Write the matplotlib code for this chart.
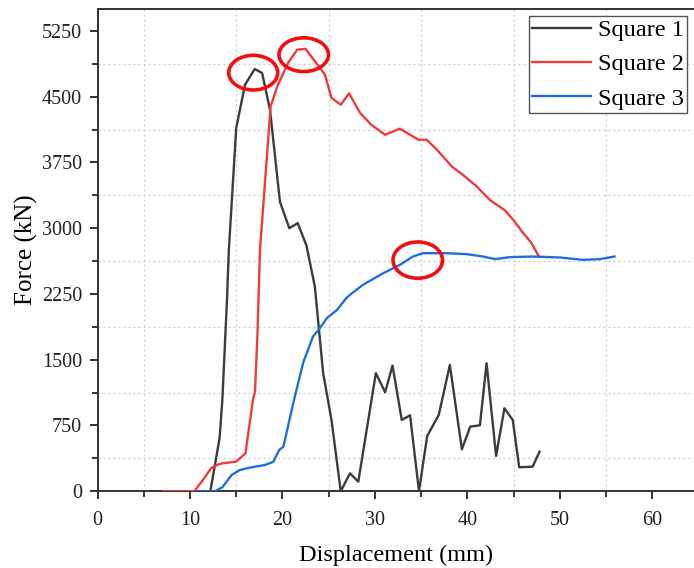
import matplotlib.pyplot as plt
from matplotlib.patches import Ellipse
import numpy as np

# Square 1
x1 = [12.2, 13.2, 13.5, 14.0, 14.2, 15.0, 15.95, 17.0, 17.8, 18.65, 19.73, 20.74, 21.65,
      22.6, 23.5, 24.4, 25.3, 26.3, 27.3, 28.2, 30.1, 31.1, 31.9, 32.9, 33.8, 34.76,
      35.65, 36.9, 38.1, 39.4, 40.3, 41.35, 42.07, 43.1, 44.0, 44.9, 45.6, 47.05, 47.8]
y1 = [0, 604, 1041, 2180, 2750, 4143, 4637, 4816, 4770, 4351, 3300, 3000, 3058,
      2800, 2335, 1346, 813, 0, 204, 109, 1346, 1129, 1433, 813, 866, 0,
      630, 870, 1440, 478, 736, 752, 1460, 402, 946, 813, 273, 280, 451]

# Square 2
x2 = [7.1, 10.47, 11.4, 12.27, 12.9, 13.5, 14.97, 16.0, 16.8, 17.03, 17.3, 17.57, 18.72,
      19.44, 20.6, 21.6, 22.5, 23.6, 24.6, 25.3, 26.3, 27.2, 28.4, 29.6, 31.1, 32.7,
      34.7, 35.6, 36.7, 38.3, 39.5, 41.0, 42.5, 44.05, 44.95, 45.9, 46.9, 47.76]
y2 = [0, 0, 128, 261, 299, 318, 337, 432, 1041, 1136, 1802, 2756, 4389,
      4618, 4885, 5037, 5045, 4892, 4751, 4485, 4409, 4538, 4314, 4180, 4066, 4135,
      4009, 4009, 3895, 3705, 3610, 3476, 3315, 3205, 3096, 2962, 2835, 2672]

# Square 3
x3 = [10.7, 12.7, 13.5, 14.5, 15.4, 16.5, 18.1, 19.0, 19.65, 20.1, 21.2, 22.25, 23.3,
      24.05, 24.8, 25.9, 26.9, 27.3, 28.7, 30.9, 32.7, 34.1, 35.2, 37.75, 39.9, 41.7,
      43.0, 44.6, 47.1, 50.0, 52.5, 54.3, 55.9]
y3 = [0, 0, 45, 185, 242, 270, 299, 335, 470, 508, 1020, 1470, 1764,
      1860, 1974, 2068, 2202, 2240, 2354, 2487, 2582, 2677, 2715, 2715, 2704, 2677,
      2647, 2670, 2677, 2666, 2639, 2647, 2677]

# red circles marking the peaks: centre x, centre y, width, height (data units)
circ_x = [16.84, 22.3, 34.63]
circ_y = [4774, 4979, 2636]
circ_w = [5.3, 5.35, 5.35]
circ_h = [395, 385, 414]

plt.rcParams['font.family'] = ['Liberation Serif', 'DejaVu Serif']

fig = plt.figure(figsize=(6.94, 5.68), dpi=100)
ax = fig.add_axes([0.1405, 0.1352, 0.8595, 0.8489])

ax.plot(x1, y1, color='#3c3c3c', lw=1.7, label='Square 1', zorder=3)
ax.plot(x2, y2, color='#f23a3a', lw=1.7, label='Square 2', zorder=3)
ax.plot(x3, y3, color='#1f6fe0', lw=1.7, label='Square 3', zorder=3)

for cx, cy, w, h in zip(circ_x, circ_y, circ_w, circ_h):
    ax.add_patch(Ellipse((cx, cy), w, h, fill=False, edgecolor='#f01010', lw=2.6, zorder=4))

ax.set_xlim(0, 64.5)
ax.set_ylim(0, 5500)
ax.set_xticks(np.arange(0, 61, 10))
ax.set_xticks(np.arange(5, 64, 10), minor=True)
ax.set_yticks(np.arange(0, 5251, 750))
ax.set_yticks(np.arange(375, 5500, 750), minor=True)

ax.grid(which='minor', color='#c8c8c8', linestyle=(0, (1.5, 2.5)), lw=0.9)
ax.grid(which='major', visible=False)

ax.tick_params(which='major', direction='out', length=6, width=1.3, labelsize=14.5, colors='#222222')
ax.tick_params(axis='x', which='major', pad=8)
ax.tick_params(axis='y', which='major', pad=5)
ax.tick_params(which='minor', direction='out', length=4, width=1.1)

for side in ['left', 'bottom', 'top']:
    ax.spines[side].set_linewidth(1.4)
    ax.spines[side].set_color('#333333')
ax.spines['right'].set_visible(False)

ax.set_xlabel('Displacement (mm)', fontsize=17.5, labelpad=11)
ax.set_ylabel('Force (kN)', fontsize=18, labelpad=3)

leg = ax.legend(loc='upper right', fontsize=17.5, fancybox=False, framealpha=1,
                edgecolor='#555555', handlelength=2.4, handletextpad=0.3,
                labelspacing=0.5, borderpad=0.12, borderaxespad=0.3)
leg.get_frame().set_linewidth(1.0)

fig.savefig('out.png', dpi=100)
